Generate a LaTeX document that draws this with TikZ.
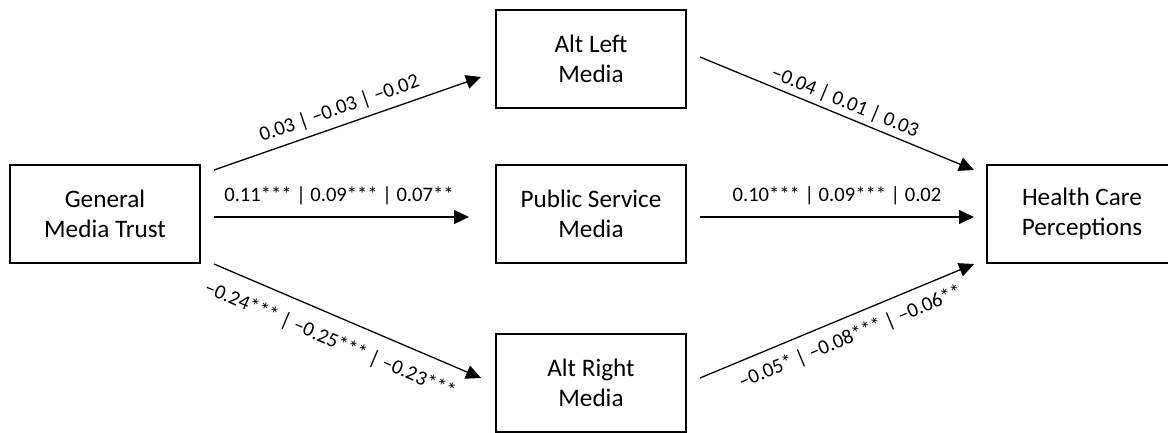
\documentclass[tikz,border=0pt]{standalone}
\usepackage{fontspec}
\setmainfont{Carlito}
\usetikzlibrary{arrows.meta,calc}
\begin{document}
\begin{tikzpicture}[x=0.5pt,y=-0.5pt,
  box/.style={draw,line width=1pt,minimum width=95pt,minimum height=49pt,inner sep=0pt,align=center,
    font=\fontsize{12.6}{15}\selectfont},
  conn/.style={line width=0.65pt,-{Triangle[length=7.5pt,width=7pt]}},
  lab/.style={font=\fontsize{10.3}{12}\selectfont,inner sep=0pt,anchor=base,sloped}]
\clip (0,0) rectangle (1168,433);
\useasboundingbox (0,0) rectangle (1168,433);
\fill[white] (0,0) rectangle (1168,433);
\node[box] (gmt) at (105,214) {General\\Media Trust};
\node[box] (al) at (591,59) {Alt Left\\Media};
\node[box] (psm) at (591,214) {Public Service\\Media};
\node[box] (ar) at (591,383) {Alt Right\\Media};
\node[box] (hcp) at (1082,214) {Health Care\\Perceptions};
\draw[conn] ($(gmt.north east)+(13,6)$) -- node[lab,pos=0.49,yshift=5.5pt] {0.03 | –0.03 | –0.02} ($(al.west)+(-14,18)$);
\draw[conn] ($(gmt.east)+(13,3)$) -- node[lab,pos=0.49,yshift=8pt] {0.11*** | 0.09*** | 0.07**} ($(psm.west)+(-26,3)$);
\draw[conn] ($(gmt.south east)+(13,0)$) -- node[lab,pos=0.47,yshift=-15pt] {–0.24*** | –0.25*** | –0.23***} ($(ar.west)+(-14,-5)$);
\draw[conn] ($(al.east)+(13,-2)$) -- node[lab,pos=0.51,yshift=4pt] {–0.04 | 0.01 | 0.03} ($(hcp.west)+(-12,-44)$);
\draw[conn] ($(psm.east)+(13,3)$) -- node[lab,pos=0.5,yshift=8pt] {0.10*** | 0.09*** | 0.02} ($(hcp.west)+(-12,3)$);
\draw[conn] ($(ar.east)+(13,-5)$) -- node[lab,pos=0.52,yshift=-13pt] {–0.05* | –0.08*** | –0.06**} ($(hcp.south west)+(-12,0)$);
\end{tikzpicture}
\end{document}
